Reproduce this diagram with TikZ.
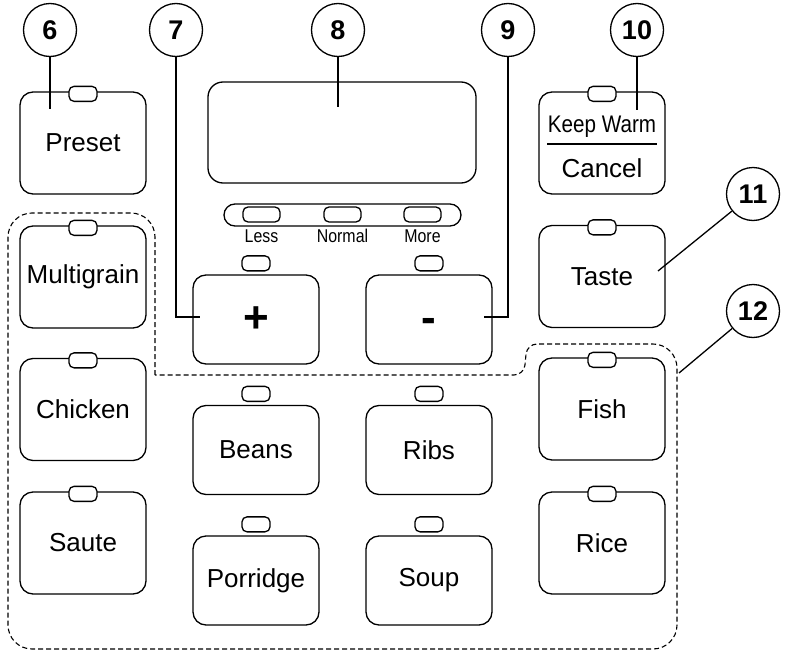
\documentclass[tikz,border=0pt]{standalone}
\usepackage{fontspec}
\setmainfont{Liberation Sans}
\usetikzlibrary{positioning}

\newcommand\keyfont{\fontsize{26}{30}\selectfont}
\newcommand\tagfont{\fontsize{27}{30}\selectfont\bfseries}
\newcommand\signfont{\fontsize{44}{48}\selectfont\bfseries}
\newcommand\levelfont{\fontsize{18.5}{20}\selectfont}

\begin{document}
\begin{tikzpicture}[
    x=1pt, y=-1pt,
    key/.style={draw, line width=1.3pt, rounded corners=13pt, minimum width=126pt,
                minimum height=102pt, inner sep=0pt, font=\keyfont},
    lowkey/.style={key, minimum height=89pt},
    led/.style={draw, fill=white, line width=1.3pt, rounded corners=5pt,
                minimum width=28pt, minimum height=15pt, inner sep=0pt},
    wideled/.style={led, minimum width=37pt},
    levellabel/.style={font=\levelfont, inner sep=0pt, anchor=base},
    tag/.style={draw, circle, line width=1.3pt, minimum size=53pt, inner sep=0pt, font=\tagfont},
    leader/.style={line width=1.3pt},
    groupline/.style={line width=1.1pt, dash pattern=on 5pt off 3pt},
]
\useasboundingbox (0,0) rectangle (785,653);

% Dashed group of cooking programs
\draw[groupline] (155,375) [rounded corners=24pt] -- (155,213) -- (8,213) -- (8,649)
      -- (677,649) -- (677,344) [rounded corners=10pt] -- (527,344) -- (524,375)
      [sharp corners] -- cycle;

% Display and level bar
\node[draw, line width=1.3pt, rounded corners=15pt, minimum width=268pt, minimum height=101pt]
     (disp) at (342,132.5) {};
\node[draw, line width=1.3pt, rounded corners=11pt, minimum width=237pt, minimum height=22pt]
     (levels) at (342.5,215) {};
\node[wideled] (less)   at (261.5,214.5) {};
\node[wideled] (normal) at (342.5,214.5) {};
\node[wideled] (more)   at (422.5,214.5) {};
\node[levellabel] (lessl)   at (261.5,242) {\scalebox{0.86}[1]{Less}};
\node[levellabel] (normall) at (342.5,242) {\scalebox{0.86}[1]{Normal}};
\node[levellabel] (morel)   at (422.5,242) {\scalebox{0.86}[1]{More}};

% Keys with the lamp on the top edge
\node[key] (preset)     at (83,143)    {Preset};
\node[key] (multigrain) at (83,277)    {Multigrain};
\node[key] (chicken)    at (83,409.5)  {Chicken};
\node[key] (saute)      at (83,543)    {Saute};
\node[key] (keepwarm)   at (602,143)   {};
\node[key] (taste)      at (602,276.5) {Taste};
\node[key] (fish)       at (602,409)   {Fish};
\node[key] (rice)       at (602,543)   {Rice};
\foreach \k in {preset,multigrain,chicken,saute,keepwarm,taste,fish,rice}
    \node[led] (led-\k) at ([yshift=-2.5pt]\k.north) {};

% Keep Warm / Cancel
\node[font=\fontsize{24}{28}\selectfont, anchor=base, inner sep=0pt] (kwtext) at (602,132)
     {\scalebox{0.86}[1]{Keep Warm}};
\node[font=\keyfont, anchor=base, inner sep=0pt] (canceltext) at (602,177) {Cancel};
\draw[line width=1.3pt] (547,144) -- (657,144);

% Keys with the lamp above
\node[lowkey, font=\signfont] (plus)  at (256,319.5) {+};
\node[lowkey, font=\signfont] (minus) at (429,319.5) {\vphantom{+}-};
\node[lowkey] (beans)    at (256,450)   {Beans};
\node[lowkey] (ribs)     at (429,450)   {Ribs};
\node[lowkey] (porridge) at (256,580.5) {Porridge};
\node[lowkey] (soup)     at (429,580.5) {Soup};
\foreach \k in {plus,minus,beans,ribs,porridge,soup}
    \node[led] (led-\k) at ([yshift=11pt]\k.north) {};

% Callout numbers
\node[tag] (c6)  at (50,30)   {6};
\node[tag] (c7)  at (176,30)  {7};
\node[tag] (c8)  at (338,30)  {8};
\node[tag] (c9)  at (508,30)  {9};
\node[tag] (c10) at (637,30)  {10};
\node[tag] (c11) at (753,194) {11};
\node[tag] (c12) at (753,311) {12};

% Leader ends
\coordinate (p6)  at (50,109);
\coordinate (p7)  at (200,317);
\coordinate (p8)  at (338,107);
\coordinate (p9)  at (484,317);
\coordinate (p10) at (637,110);
\coordinate (p11) at (658,271);
\coordinate (p12) at (679,373);

\draw[leader] (c6) -- (p6);
\draw[leader] (c7) |- (p7);
\draw[leader] (c8) -- (p8);
\draw[leader] (c9) |- (p9);
\draw[leader] (c10) -- (p10);
\draw[leader] (c11) -- (p11);
\draw[leader] (c12) -- (p12);

\end{tikzpicture}
\end{document}
